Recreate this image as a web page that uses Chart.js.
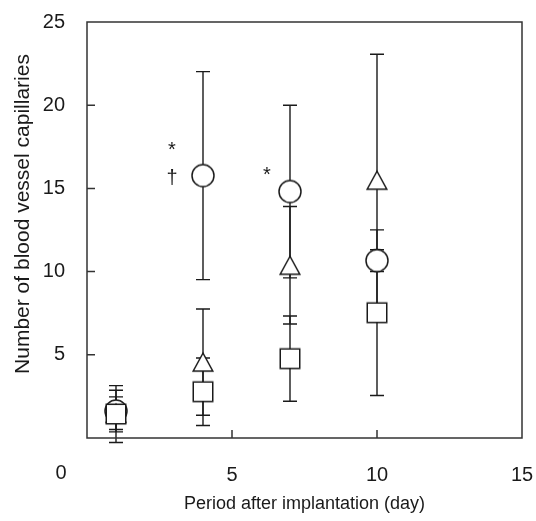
<!DOCTYPE html>
<html lang="en">
<head>
  <meta charset="UTF-8">
  <title>Blood vessel capillaries</title>
  <script src="https://cdn.jsdelivr.net/npm/chart.js"></script>
  <style>
    html, body { margin: 0; padding: 0; background: #fff; }
    #wrap { width: 536px; height: 521px; }
  </style>
</head>
<body>
  <div id="wrap"><canvas id="chart" width="536" height="521"></canvas></div>

  <script>
    // data (mean and SD per day)
    const days = [1, 4, 7, 10];
    const circleMean = [1.62, 15.77, 14.81, 10.66];
    const circleSD = [1.25, 6.25, 5.19, 0.65];
    const triangleMean = [1.49, 4.56, 10.38, 15.49];
    const triangleSD = [0.98, 3.19, 3.53, 7.57];
    const squareMean = [1.44, 2.78, 4.77, 7.53];
    const squareSD = [1.71, 2.03, 2.56, 4.98];

    const xTicks = [0, 5, 10, 15];
    const yTicks = [5, 10, 15, 20, 25];

    // significance marks near the points
    const marks = [
      { x: 2.93, y: 17.3, text: "*" },
      { x: 2.93, y: 15.6, text: "†" },
      { x: 6.2, y: 15.8, text: "*" }
    ];

    const ink = "#1a1a1a";
    const font = "'Liberation Sans', Arial, sans-serif";

    // marker images (open symbols)
    function makeMarker(kind) {
      const c = document.createElement("canvas");
      c.width = 26; c.height = 26;
      const g = c.getContext("2d");
      g.lineWidth = 1.5;
      g.strokeStyle = ink;
      g.fillStyle = "#fff";
      g.beginPath();
      if (kind === "circle") {
        g.arc(13, 13, 11, 0, Math.PI * 2);
      } else if (kind === "triangle") {
        g.moveTo(13, 4);
        g.lineTo(3.2, 22);
        g.lineTo(22.8, 22);
        g.closePath();
      } else {
        g.rect(3.25, 3.25, 19.5, 19.5);
      }
      g.fill();
      g.stroke();
      return c;
    }

    function pts(means) {
      return days.map((d, i) => ({ x: d, y: means[i] }));
    }

    const series = [
      { mean: circleMean, sd: circleSD },
      { mean: triangleMean, sd: triangleSD },
      { mean: squareMean, sd: squareSD }
    ];

    const decor = {
      id: "decor",
      beforeDatasetsDraw(chart) {
        const { ctx } = chart;
        const xs = chart.scales.x, ys = chart.scales.y;
        ctx.save();
        ctx.strokeStyle = ink;
        ctx.lineWidth = 1.4;
        series.forEach(s => {
          days.forEach((d, i) => {
            const px = xs.getPixelForValue(d);
            const top = ys.getPixelForValue(s.mean[i] + s.sd[i]);
            const bot = ys.getPixelForValue(s.mean[i] - s.sd[i]);
            ctx.beginPath();
            ctx.moveTo(px, top); ctx.lineTo(px, bot);
            ctx.moveTo(px - 7, top); ctx.lineTo(px + 7, top);
            ctx.moveTo(px - 7, bot); ctx.lineTo(px + 7, bot);
            ctx.stroke();
          });
        });
        ctx.restore();
      },
      afterDatasetsDraw(chart) {
        const { ctx, chartArea: a } = chart;
        const xs = chart.scales.x, ys = chart.scales.y;
        ctx.save();
        ctx.strokeStyle = "#333";
        ctx.lineWidth = 1.5;
        ctx.strokeRect(a.left, a.top, a.right - a.left, a.bottom - a.top);
        // inward tick marks
        ctx.beginPath();
        yTicks.slice(0, -1).forEach(v => {
          const py = ys.getPixelForValue(v);
          ctx.moveTo(a.left, py); ctx.lineTo(a.left + 8, py);
        });
        xTicks.slice(1, -1).forEach(v => {
          const px = xs.getPixelForValue(v);
          ctx.moveTo(px, a.bottom); ctx.lineTo(px, a.bottom - 8);
        });
        ctx.stroke();

        ctx.fillStyle = ink;
        ctx.textAlign = "center";
        ctx.textBaseline = "middle";
        ctx.font = "20px " + font;
        // origin label sits left of the axis corner
        ctx.fillText("0", xs.getPixelForValue(0) - 26, 473);
        ctx.font = "20px " + font;
        marks.forEach(m => {
          ctx.fillText(m.text, xs.getPixelForValue(m.x), ys.getPixelForValue(m.y));
        });
        ctx.font = "18px " + font;
        ctx.fillText("Period after implantation (day)", (a.left + a.right) / 2, 504);
        ctx.save();
        ctx.translate(23, 214);
        ctx.rotate(-Math.PI / 2);
        ctx.font = "21px " + font;
        ctx.fillText("Number of blood vessel capillaries", 0, 0);
        ctx.restore();
        ctx.restore();
      }
    };

    new Chart(document.getElementById("chart"), {
      type: "scatter",
      data: {
        datasets: [
          { label: "square", data: pts(squareMean), pointStyle: makeMarker("square"), order: 0 },
          { label: "triangle", data: pts(triangleMean), pointStyle: makeMarker("triangle"), order: 1 },
          { label: "circle", data: pts(circleMean), pointStyle: makeMarker("circle"), order: 2 }
        ]
      },
      options: {
        responsive: false,
        animation: false,
        events: [],
        layout: { padding: { top: 22, right: 14, left: 0, bottom: 0 } },
        plugins: { legend: { display: false }, tooltip: { enabled: false } },
        scales: {
          x: {
            type: "linear",
            min: 0, max: 15,
            afterBuildTicks: s => { s.ticks = xTicks.map(v => ({ value: v })); },
            afterFit: s => { s.height = 83; s.paddingLeft = 0; s.paddingRight = 0; },
            grid: { display: false, drawTicks: false },
            border: { display: false },
            ticks: {
              padding: 25,
              color: ink,
              font: { family: font, size: 20 },
              callback: v => (v === 0 ? "" : v)
            }
          },
          y: {
            min: 0, max: 25,
            afterBuildTicks: s => { s.ticks = yTicks.map(v => ({ value: v })); },
            afterFit: s => { s.width = 87; s.paddingTop = 0; s.paddingBottom = 0; },
            grid: { display: false, drawTicks: false },
            border: { display: false },
            ticks: {
              padding: 22,
              color: ink,
              font: { family: font, size: 20 }
            }
          }
        }
      },
      plugins: [decor]
    });
  </script>
</body>
</html>
